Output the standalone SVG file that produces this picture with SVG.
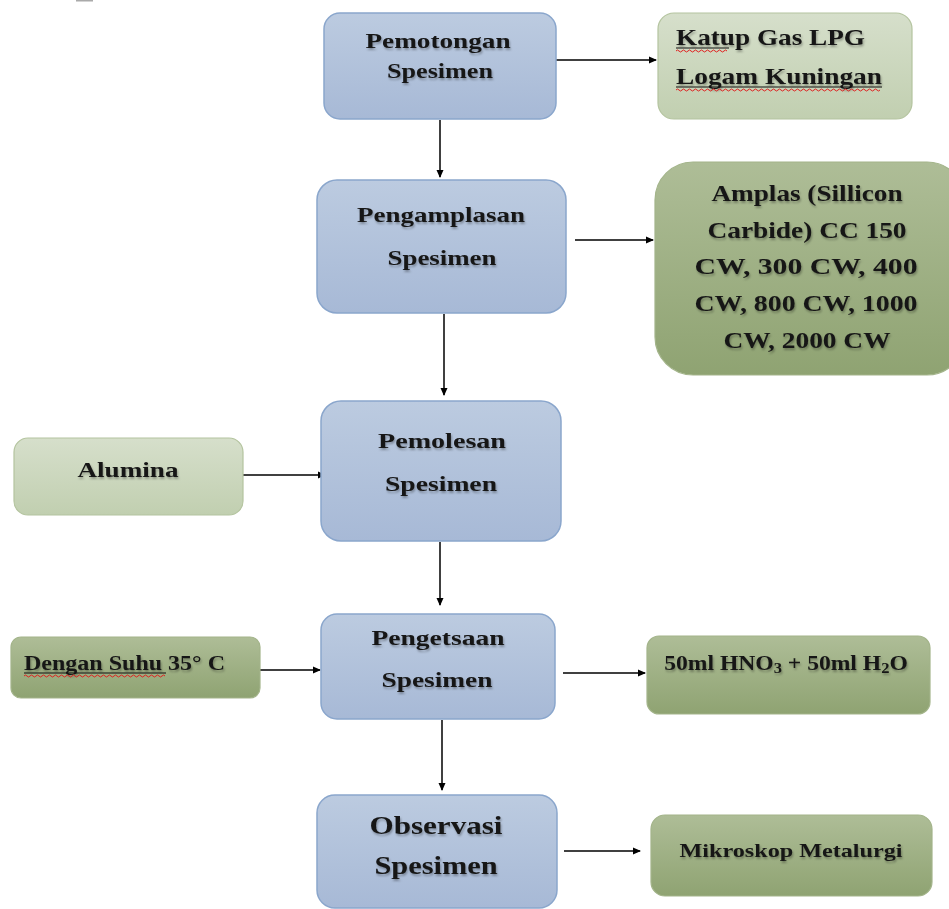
<svg xmlns="http://www.w3.org/2000/svg" width="949" height="909" viewBox="0 0 949 909">
<defs>
<linearGradient id="gBlue" x1="0" y1="0" x2="0" y2="1"><stop offset="0" stop-color="#bccbe0"/><stop offset="1" stop-color="#a7b9d6"/></linearGradient>
<linearGradient id="gLight" x1="0" y1="0" x2="0" y2="1"><stop offset="0" stop-color="#d6dfcb"/><stop offset="1" stop-color="#c1cfb0"/></linearGradient>
<linearGradient id="gDark" x1="0" y1="0" x2="0" y2="1"><stop offset="0" stop-color="#aebd97"/><stop offset="1" stop-color="#8fa372"/></linearGradient>
<marker id="arr" markerWidth="8" markerHeight="8" refX="7" refY="4" orient="auto" markerUnits="userSpaceOnUse"><path d="M0,0.5 L8,4 L0,7.5 Z" fill="#000"/></marker>
<filter id="ts" x="-10%" y="-30%" width="120%" height="160%"><feGaussianBlur in="SourceAlpha" stdDeviation="1"/><feOffset dx="1" dy="1.5" result="b"/><feFlood flood-color="#000" flood-opacity="0.3"/><feComposite in2="b" operator="in"/><feMerge><feMergeNode/><feMergeNode in="SourceGraphic"/></feMerge></filter>
</defs>
<style>
.blue{fill:url(#gBlue);stroke:#8aa6cc;stroke-width:1.5}
.light{fill:url(#gLight);stroke:#b4c49f;stroke-width:1.2}
.dark{fill:url(#gDark);stroke:#a3b48a;stroke-width:1.2}
text{font-family:"Liberation Serif","Times New Roman",serif;font-weight:bold;fill:#151515;text-anchor:middle;filter:url(#ts)}
.l{text-anchor:start}
.c{stroke:#000;stroke-width:1.5;fill:none;marker-end:url(#arr)}
.sq{stroke:#e02020;stroke-width:1;fill:none}
.ul{stroke:#111;stroke-width:1}
</style>
<rect x="76" y="0" width="17" height="1.5" fill="#aaa"/>
<g id="connectors">
<line class="c" x1="556" y1="60" x2="656" y2="60"/>
<line class="c" x1="440" y1="120" x2="440" y2="177"/>
<line class="c" x1="575" y1="240" x2="653" y2="240"/>
<line class="c" x1="444" y1="314" x2="444" y2="395"/>
<line class="c" x1="243" y1="475" x2="325" y2="475"/>
<line class="c" x1="440" y1="542" x2="440" y2="605"/>
<line class="c" x1="260" y1="670" x2="320" y2="670"/>
<line class="c" x1="563" y1="673" x2="645" y2="673"/>
<line class="c" x1="442" y1="720" x2="442" y2="790"/>
<line class="c" x1="564" y1="851" x2="640" y2="851"/>
</g>
<g id="pemotongan"><rect class="blue" x="324" y="13" width="232" height="106" rx="16"/><text x="438" y="48" font-size="22" textLength="145" lengthAdjust="spacingAndGlyphs">Pemotongan</text><text x="440" y="78" font-size="22" textLength="106" lengthAdjust="spacingAndGlyphs">Spesimen</text></g>
<g id="katup"><rect class="light" x="658" y="13" width="254" height="106" rx="16"/><text class="l" x="676" y="45" font-size="23" textLength="189" lengthAdjust="spacingAndGlyphs">Katup Gas LPG</text><text class="l" x="676" y="84" font-size="23" textLength="206" lengthAdjust="spacingAndGlyphs">Logam Kuningan</text>
<line class="ul" x1="676" y1="48" x2="729" y2="48"/><line class="ul" x1="676" y1="87" x2="882" y2="87"/>
<path class="sq" d="M676,51 q1.5,-2 3,0 t3,0 t3,0 t3,0 t3,0 t3,0 t3,0 t3,0 t3,0 t3,0 t3,0 t3,0 t3,0 t3,0 t3,0 t3,0 t3,0"/>
<path class="sq" d="M676,90 q1.5,-2 3,0 t3,0 t3,0 t3,0 t3,0 t3,0 t3,0 t3,0 t3,0 t3,0 t3,0 t3,0 t3,0 t3,0 t3,0 t3,0 t3,0 t3,0 t3,0 t3,0 t3,0 t3,0 t3,0 t3,0 t3,0 t3,0 t3,0 t3,0 t3,0 t3,0 t3,0 t3,0 t3,0 t3,0 t3,0 t3,0 t3,0 t3,0 t3,0 t3,0 t3,0 t3,0 t3,0 t3,0 t3,0 t3,0 t3,0 t3,0 t3,0 t3,0 t3,0 t3,0 t3,0 t3,0 t3,0 t3,0 t3,0 t3,0 t3,0 t3,0 t3,0 t3,0 t3,0 t3,0 t3,0 t3,0 t3,0 t3,0"/></g>
<g id="pengamplasan"><rect class="blue" x="317" y="180" width="249" height="133" rx="20"/><text x="441" y="222" font-size="22" textLength="168" lengthAdjust="spacingAndGlyphs">Pengamplasan</text><text x="442" y="265" font-size="22" textLength="109" lengthAdjust="spacingAndGlyphs">Spesimen</text></g>
<g id="amplas"><rect class="dark" x="655" y="162" width="310" height="213" rx="38"/>
<text x="807" y="201" font-size="23" textLength="191" lengthAdjust="spacingAndGlyphs">Amplas (Sillicon</text>
<text x="807" y="238" font-size="23" textLength="199" lengthAdjust="spacingAndGlyphs">Carbide) CC 150</text>
<text x="806" y="274" font-size="23" textLength="223" lengthAdjust="spacingAndGlyphs">CW, 300 CW, 400</text>
<text x="806" y="311" font-size="23" textLength="223" lengthAdjust="spacingAndGlyphs">CW, 800 CW, 1000</text>
<text x="807" y="348" font-size="23" textLength="167" lengthAdjust="spacingAndGlyphs">CW, 2000 CW</text></g>
<g id="pemolesan"><rect class="blue" x="321" y="401" width="240" height="140" rx="20"/><text x="442" y="448" font-size="22" textLength="128" lengthAdjust="spacingAndGlyphs">Pemolesan</text><text x="441" y="491" font-size="22" textLength="112" lengthAdjust="spacingAndGlyphs">Spesimen</text></g>
<g id="alumina"><rect class="light" x="14" y="438" width="229" height="77" rx="14"/><text x="128" y="477" font-size="22" textLength="101" lengthAdjust="spacingAndGlyphs">Alumina</text></g>
<g id="pengetsaan"><rect class="blue" x="321" y="614" width="234" height="105" rx="16"/><text x="438" y="645" font-size="22" textLength="133" lengthAdjust="spacingAndGlyphs">Pengetsaan</text><text x="437" y="687" font-size="22" textLength="111" lengthAdjust="spacingAndGlyphs">Spesimen</text></g>
<g id="dengan"><rect class="dark" x="11" y="637" width="249" height="61" rx="10"/><text class="l" x="24" y="670" font-size="20" textLength="201" lengthAdjust="spacingAndGlyphs">Dengan Suhu 35° C</text>
<line class="ul" x1="24" y1="673" x2="166" y2="673"/>
<path class="sq" d="M24,676 q1.5,-2 3,0 t3,0 t3,0 t3,0 t3,0 t3,0 t3,0 t3,0 t3,0 t3,0 t3,0 t3,0 t3,0 t3,0 t3,0 t3,0 t3,0 t3,0 t3,0 t3,0 t3,0 t3,0 t3,0 t3,0 t3,0 t3,0 t3,0 t3,0 t3,0 t3,0 t3,0 t3,0 t3,0 t3,0 t3,0 t3,0 t3,0 t3,0 t3,0 t3,0 t3,0 t3,0 t3,0 t3,0 t3,0 t3,0 t3,0"/></g>
<g id="hno3"><rect class="dark" x="647" y="636" width="283" height="78" rx="12"/><text transform="translate(786,670) scale(1.18,1)" x="0" y="0" font-size="20">50ml HNO<tspan font-size="14" dy="3">3</tspan><tspan dy="-3"> + 50ml H</tspan><tspan font-size="14" dy="3">2</tspan><tspan dy="-3">O</tspan></text></g>
<g id="observasi"><rect class="blue" x="317" y="795" width="240" height="113" rx="18"/><text x="436" y="834" font-size="26" textLength="133" lengthAdjust="spacingAndGlyphs">Observasi</text><text x="436" y="874" font-size="26" textLength="123" lengthAdjust="spacingAndGlyphs">Spesimen</text></g>
<g id="mikroskop"><rect class="dark" x="651" y="815" width="281" height="81" rx="14"/><text x="791" y="857" font-size="19" textLength="223" lengthAdjust="spacingAndGlyphs">Mikroskop Metalurgi</text></g>
</svg>
